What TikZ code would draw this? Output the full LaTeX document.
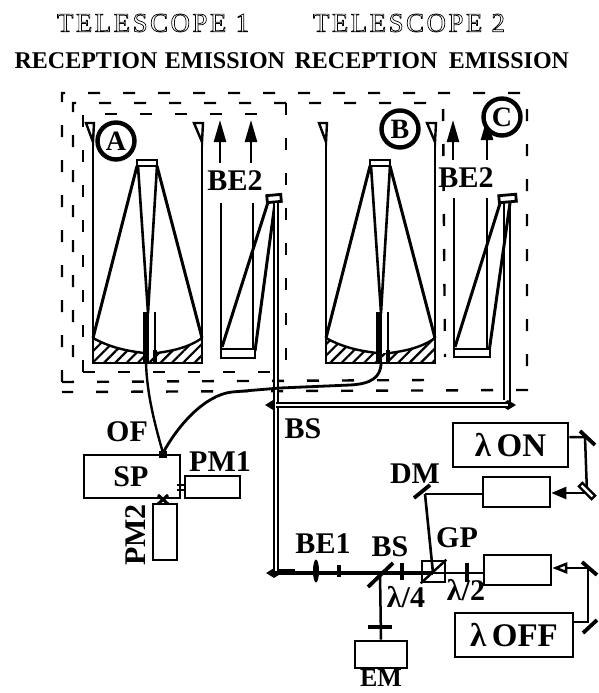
\documentclass[tikz,border=0pt]{standalone}
\usepackage{fontspec}
\setmainfont{Liberation Serif}
\usetikzlibrary{arrows.meta,patterns.meta,shapes.geometric}
\newcommand{\hollowtext}[1]{\special{pdf:code 1 Tr 0.7 w}#1\special{pdf:code 0 Tr}}
\tikzset{
  thick line/.style={line width=2.5pt},
  frame/.style={line width=2.4pt,dash pattern=on 12pt off 23pt},
  box/.style={draw,line width=2.6pt,inner sep=0pt,fill=white},
  lab/.style={font=\fontsize{30}{30}\selectfont\bfseries,inner sep=0pt},
  head/.style={font=\fontsize{24}{24}\selectfont\bfseries,inner sep=0pt},
  hollow/.style={font=\fontsize{27}{27}\selectfont\addfontfeature{LetterSpace=9},inner sep=0pt},
  badge/.style={circle,draw,line width=4.4pt,fill=white,minimum size=37pt,inner sep=0pt,font=\fontsize{28}{28}\selectfont\bfseries},
  beam/.style={line width=2pt,double,double distance=2.4pt},
  plate/.style={line width=3.6pt},
  mirror/.style={line width=3.8pt},
  turn/.style={diamond,fill=black,inner sep=0pt,minimum width=16pt,minimum height=10pt},
  up arrow/.style={line width=2.4pt,-{Triangle[length=22pt,width=12pt]}},
  tele/.pic={
    \path[pattern={Lines[angle=45,distance=8pt,line width=2.2pt]}] (0,338) .. controls (18,348) and (35,351) .. (51,353) -- (64,353) .. controls (78,351) and (95,348) .. (109,338) -- (109,363) -- (0,363) -- cycle;
    \draw[line width=2.4pt] (0,338) .. controls (18,348) and (35,351) .. (51,353) (64,353) .. controls (78,351) and (95,348) .. (109,338);
    \draw[line width=2.4pt] (0,142) -- (0,363) -- (109,363) -- (109,142);
    \draw[line width=2.4pt] (-7,123) -- (1,123) -- (0,142) -- cycle (101,123) -- (110,123) -- (109,142) -- cycle;
    \draw[line width=3pt] (44,166) -- (0,338) (64,166) -- (109,338);
    \draw[line width=2.6pt] (45,166) -- (55,313) (64,166) -- (55,313);
    \draw[line width=2.6pt,fill=white] (44,160) rectangle (64,166);
    \fill (50,312) rectangle (56,363);
    \draw[line width=2pt] (62,312) -- (62,363);
    \fill (60,350) rectangle (64,363);
  },
}
\begin{document}
\begin{tikzpicture}[x=1pt,y=-1pt]
\useasboundingbox (0,0) rectangle (598,693);
% headings
\node[hollow] (t1) at (153,23) {\hollowtext{TELESCOPE 1}};
\node[hollow] (t2) at (409,23) {\hollowtext{TELESCOPE 2}};
\node[head] (h1) at (86,61) {RECEPTION};
\node[head] (h2) at (225,61) {EMISSION};
\node[head] (h3) at (366,61) {RECEPTION};
\node[head] (h4) at (509,61) {EMISSION};
% dashed enclosures
\draw[frame] (62,382) -- (62,93) -- (527,93) -- (527,390) -- (62,392);
\draw[frame] (62,382) -- (430,380);
\draw[frame] (73,357) -- (73,103) -- (443,103) -- (445,357);
\draw[frame] (83,372) -- (83,114) -- (265,114);
\draw[frame] (83,372) -- (270,372);
\draw[frame] (286,103) -- (286,367);
% telescopes
\pic at (93,0) {tele};
\pic at (326,0) {tele};
% emission optics 1
\coordinate (e1a) at (222,347); \coordinate (e1b) at (255,351);
\coordinate (e1c) at (270,196); \coordinate (e1d) at (275,203);
\draw[thick line] (221,203) -- (221,349);
\draw[thick line] (253,203) -- (253,349);
\draw[up arrow] (220,163) -- (220,120);
\draw[up arrow] (251,163) -- (251,120);
\draw[line width=3pt] (e1a) -- (e1c);
\draw[line width=3pt] (e1b) -- (e1d);
\draw[line width=2.6pt,fill=white] (221,349) rectangle (255,358);
\draw[line width=2.8pt,fill=white,rotate around={5:(274,198)}] (267,195) rectangle (281,202);
% emission optics 2
\coordinate (e2a) at (455,347); \coordinate (e2b) at (489,352);
\coordinate (e2c) at (502,197); \coordinate (e2d) at (510,203);
\draw[thick line] (454,198) -- (454,349);
\draw[thick line] (487,198) -- (487,349);
\draw[up arrow] (453,160) -- (453,120);
\draw[up arrow] (487,160) -- (487,118);
\draw[line width=3pt] (e2a) -- (e2c);
\draw[line width=3pt] (e2b) -- (e2d);
\draw[line width=2.6pt,fill=white] (454,349) rectangle (490,357);
\draw[line width=2.8pt,fill=white,rotate around={5:(507,198)}] (499,195) rectangle (516,202);
% badges
\node[badge] (A) at (116,141) {A};
\node[badge] (B) at (400,129) {B};
\node[badge] (C) at (502,117) {C};
\node[lab] (be2a) at (235,181) {BE2};
\node[lab] (be2b) at (466,178) {BE2};
% transmit beam
\node[turn] (tl) at (273,405) {};
\node[turn] (tr) at (508,405) {};
\node[turn] (bl) at (274,573) {};
\coordinate (fold) at (276,405);
\coordinate (feed) at (295,572);
\draw[beam] (276,203) -- (276,572) -- (feed);
\draw[beam] (fold) -- (tr.center);
\draw[line width=2.4pt] (504,203) -- (504,400);
\draw[line width=2.4pt] (e2d) -- (510,403);
% spectrometer
\node[box,minimum width=96pt,minimum height=43pt] (SP) at (132,476.5) {};
\node[box,minimum width=55pt,minimum height=22pt] (PM1) at (212.5,487) {};
\node[box,minimum width=24pt,minimum height=56pt] (PM2) at (165,532) {};
\node[lab] (SPl) at (131,477) {SP};
\node[lab] (PM1l) at (220,462) {PM1};
\node[lab,rotate=90] (PM2l) at (136,535) {PM2};
\node[lab] (OFl) at (127,432) {OF};
\fill (159,451) rectangle (167,458);
\coordinate (fibreA) at (146,363);
\coordinate (fibreB) at (381,363);
\coordinate (fibreEnd) at (163,453);
\draw[line width=2.4pt] (fibreA) .. controls (147,395) and (155,425) .. (fibreEnd);
\draw[line width=2.8pt] (fibreEnd) .. controls (178,425) and (205,395) .. (232,392) -- (280,388) -- (350,385) .. controls (370,384) and (381,378) .. (fibreB);
\draw[line width=2.2pt] (177,485) -- (185,485) (177,490) -- (185,490);
\draw[line width=3pt] (158,495) -- (168,504) (168,495) -- (158,504);
% laser boxes
\node[box,minimum width=115pt,minimum height=44pt,font=\fontsize{33}{33}\selectfont\bfseries] (on) at (510.5,445) {λ\,ON};
\node[box,minimum width=118pt,minimum height=44pt,font=\fontsize{33}{33}\selectfont\bfseries] (off) at (514,635) {λ\,OFF};
\node[box,minimum width=67pt,minimum height=30pt] (amp1) at (516.5,492) {};
\node[box,minimum width=67pt,minimum height=30pt] (amp2) at (517.5,570) {};
\node[box,minimum width=52pt,minimum height=27pt] (EM) at (381,654.5) {};
\node[lab,font=\fontsize{26}{26}\selectfont\bfseries] (EMl) at (381,678) {EM};
\node[lab] (DMl) at (415,474) {DM};
\node[lab] (GPl) at (457,538) {GP};
\node[lab] (BE1l) at (323,544) {BE1};
\node[lab] (BS1l) at (303,429) {BS};
\node[lab] (BS2l) at (390,547) {BS};
\node[lab] (q4) at (406,597) {λ/4};
\node[lab] (h2l) at (466,590) {λ/2};
% laser optics
\coordinate (m1) at (585,437);
\coordinate (m2) at (587,493);
\coordinate (m3) at (588,568);
\coordinate (m4) at (588,622);
\coordinate (dm) at (425,494);
\coordinate (gp) at (433,573);
\coordinate (bs) at (380,573);
\draw[thick line] (on.east |- m1) -- (m1) -- (m2);
\draw[thick line,-{Triangle[length=15pt,width=12pt]}] (m2) -- (amp1.east |- m2);
\draw[thick line,-{Triangle[open,length=15pt,width=11pt]}] (m3) -- (amp2.east |- m3);
\draw[thick line] (m3) -- (m4) -- (off.east |- m4);
\draw[mirror] (580,431) -- (595,445);
\draw[mirror] (582,562) -- (597,575);
\draw[mirror] (583,633) -- (597,620);
\draw[line width=2.4pt,fill=white,rotate around={-45:(587,491)}] (578,488.5) rectangle (596,493.5);
\draw[thick line] (dm) -- (amp1.west |- dm);
\draw[line width=2.6pt] (dm) -- (gp);
\draw[mirror] (414,498) -- (430,485);
\draw[line width=3.2pt] (bl.center) -- (gp);
\draw[thick line] (gp) -- (amp2.west |- gp);
\draw[thick line] (bs) -- (EM.north);
\draw[mirror] (368,587) -- (393,563);
\node[ellipse,fill=black,minimum width=6pt,minimum height=23pt,inner sep=0pt] (be1) at (316,571) {};
\draw[plate] (339,565) -- (339,577);
\draw[plate] (402,563) -- (402,580);
\draw[plate] (467,563) -- (467,582);
\draw[plate,line width=4.5pt] (368,627) -- (392,627);
\node[draw,line width=2.6pt,minimum width=23pt,minimum height=21pt,inner sep=0pt] (GP) at (433.5,571.5) {};
\draw[line width=2.4pt] (GP.south west) -- (GP.north east);
\end{tikzpicture}
\end{document}
